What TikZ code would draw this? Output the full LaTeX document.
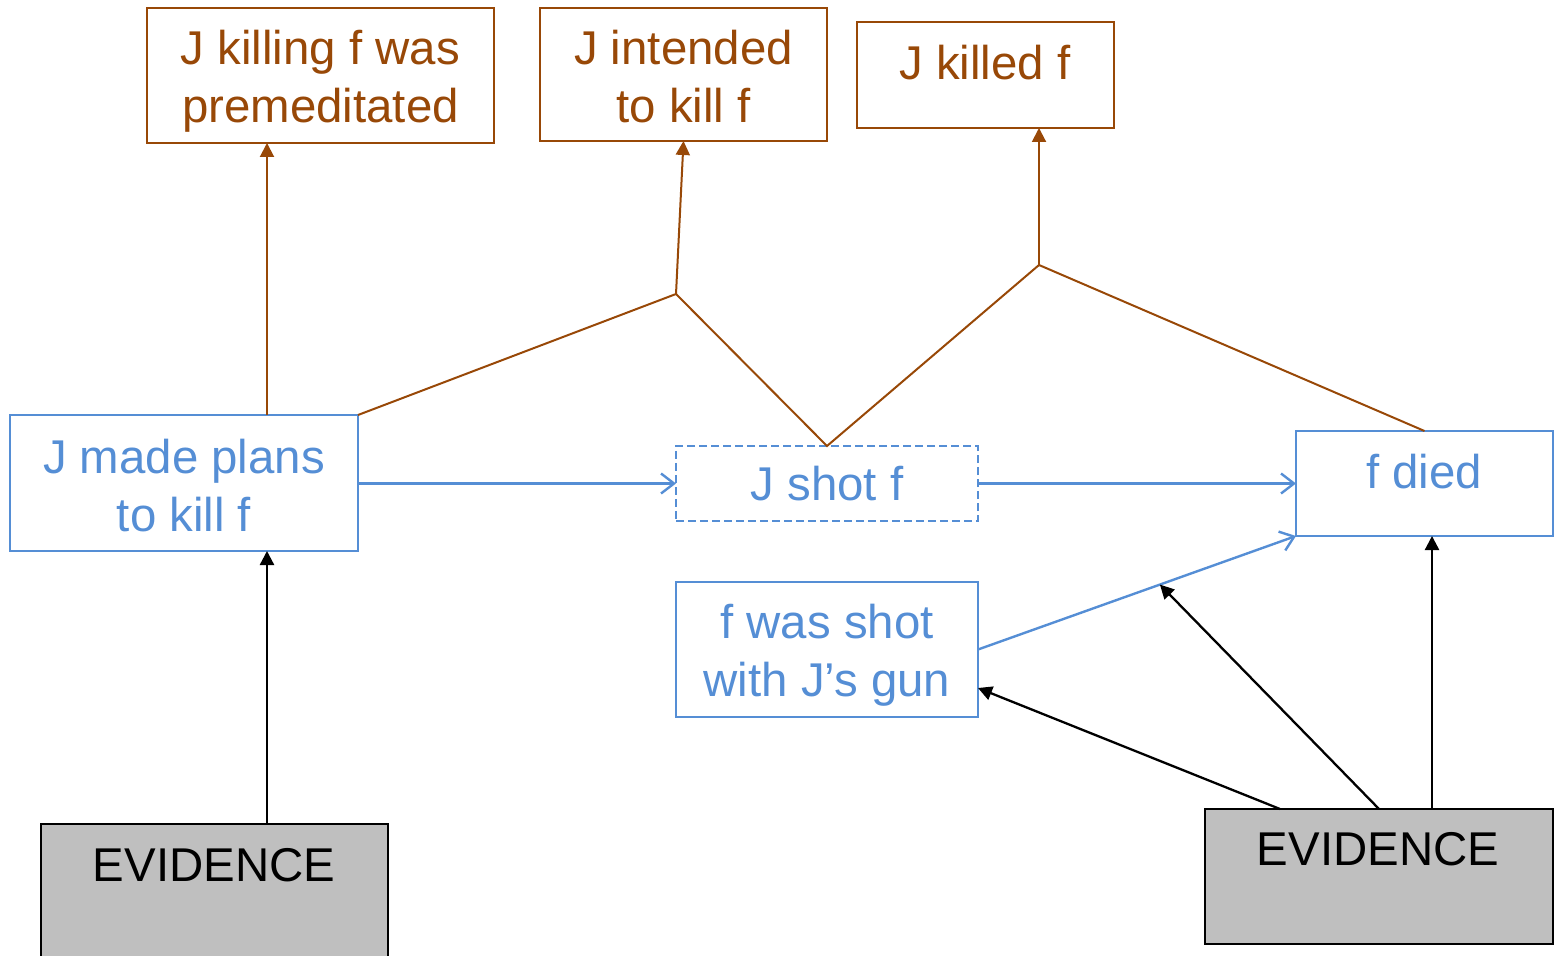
\documentclass[tikz,border=0pt]{standalone}
\usepackage{fontspec}
\setmainfont{Liberation Sans}
\usetikzlibrary{arrows.meta,calc}
\definecolor{brn}{RGB}{152,72,7}
\definecolor{blu}{RGB}{85,142,213}
\definecolor{evgray}{RGB}{191,191,191}
% invisible strut that pads the first line of a two-line label
\newcommand{\toppad}[1]{\rule{0pt}{#1}}

\begin{document}
\begin{tikzpicture}[x=0.5pt,y=-0.5pt,
  txt/.style={font=\fontsize{23.7}{29}\selectfont, align=center, inner sep=0pt},
  box/.style={rectangle, inner sep=0pt, outer sep=0pt, txt},
  claim/.style={box, draw=brn, line width=0.8pt, text=brn},
  fact/.style={box, draw=blu, line width=0.9pt, text=blu},
  hypo/.style={fact, dash pattern=on 4pt off 2pt},
  evid/.style={box, draw=black, line width=0.9pt, fill=evgray},
  support/.style={draw=brn, line width=1pt},
  supportarrow/.style={support, -{Triangle[length=7pt,width=7pt]}},
  cause/.style={draw=blu, line width=1.2pt, -{Straight Barb[length=6.5pt,width=10pt,line width=1.2pt]}},
  proof/.style={draw=black, line width=1.15pt, -{Triangle[length=7pt,width=7pt]}}]

\useasboundingbox (0,0) rectangle (1556,956);

% conclusions
\node[claim, minimum width=173.5pt, minimum height=67.5pt] (a) at (320.5,75.5) {\toppad{22.5pt}J killing f was\\premeditated};
\node[claim, minimum width=143.5pt, minimum height=66.5pt] (b) at (683.5,74.5) {\toppad{19.5pt}J intended\\to kill f};
\node[claim, minimum width=128.5pt, minimum height=53pt] (c) at (985.5,75) {};
\node[txt, text=brn, anchor=base] (ct) at (985,80) {J killed f};

% facts
\node[fact, minimum width=174pt, minimum height=68pt] (d) at (184,483) {\toppad{19.5pt}J made plans\\to kill f};
\node[hypo, minimum width=151pt, minimum height=37.5pt] (e) at (827,483.5) {J shot f};
\node[fact, minimum width=128.5pt, minimum height=52.5pt] (f) at (1424.5,483.5) {};
\node[txt, text=blu, anchor=base] (ft) at (1424,488) {f died};
\node[fact, minimum width=151pt, minimum height=67.5pt] (g) at (827,649.5) {\toppad{23pt}f was shot\\with J’s gun};

% evidence
\node[evid, minimum width=173.5pt, minimum height=67.5pt] (el) at (214.5,891.5) {};
\node[txt, anchor=base] (elt) at (214,881) {EVIDENCE};
\node[evid, minimum width=174pt, minimum height=67.5pt] (er) at (1379,876.5) {};
\node[txt, anchor=base] (ert) at (1378,865) {EVIDENCE};

% helper points
\coordinate (ax) at (267,0);
\coordinate (j1) at (676,294);
\coordinate (j2) at (1039,265);
\coordinate (hit) at ($(g.east)!0.572!(f.south west)$);
\coordinate (fx) at (1432,0);

% support for the conclusions
\draw[supportarrow] (d.north -| ax) -- (a.south -| ax);
\draw[support] (d.north east) -- (j1) -- (e.north) -- (j2) -- (f.north);
\draw[supportarrow] (j1) -- (b.south);
\draw[supportarrow] (j2) -- (j2 |- c.south);

% causal chain
\draw[cause] (d.east |- e.west) -- (e.west);
\draw[cause] (e.east) -- (f.west |- e.east);
\draw[cause] (g.east) -- (f.south west);

% evidence links
\draw[proof] (el.north -| ax) -- (d.south -| ax);
\draw[proof] ($(er.north west)+(75,0)$) -- ($(g.south east)+(0,-29)$);
\draw[proof] (er.north) -- (hit);
\draw[proof] (er.north -| fx) -- (f.south -| fx);
\end{tikzpicture}
\end{document}
